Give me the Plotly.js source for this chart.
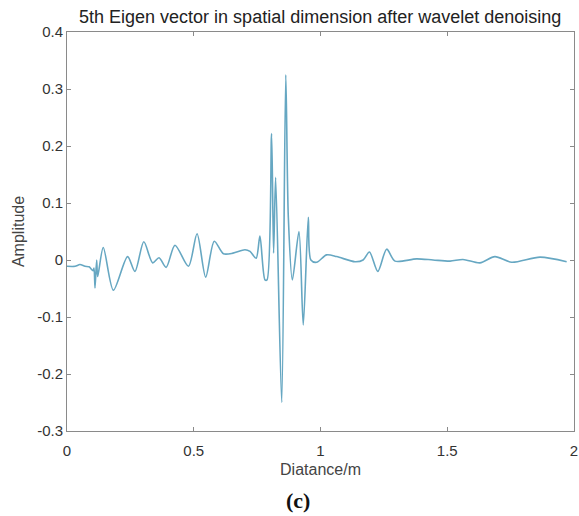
<!DOCTYPE html>
<html>
<head>
<meta charset="utf-8">
<script src="https://cdn.plot.ly/plotly-3.0.1.min.js"></script>
<style>html,body{margin:0;padding:0;background:#fff;}#chart{width:579px;height:516px;}</style>
</head>
<body>
<div id="chart"></div>
<script>
const distance = [0, 0.032, 0.051, 0.071, 0.087, 0.1026, 0.1065, 0.1105, 0.117, 0.121,
  0.143, 0.183, 0.239, 0.268, 0.303, 0.338, 0.363, 0.391, 0.426, 0.479,
  0.513, 0.547, 0.581, 0.617, 0.655, 0.702, 0.722, 0.746, 0.761, 0.781,
  0.789, 0.807, 0.815, 0.823, 0.847, 0.863, 0.873, 0.889, 0.915, 0.932,
  0.952, 0.962, 0.985, 1.024, 1.064, 1.136, 1.168, 1.193, 1.226, 1.261,
  1.294, 1.379, 1.444, 1.511, 1.562, 1.629, 1.688, 1.754, 1.866, 1.971];
const amplitude = [-0.011, -0.011, -0.008, -0.011, -0.012, -0.019, -0.014, -0.049, 0.0, -0.029,
  0.022, -0.053, 0.006, -0.02, 0.032, -0.005, 0.004, -0.013, 0.026, -0.011,
  0.046, -0.03, 0.033, 0.011, 0.012, 0.018, 0.015, 0.003, 0.042, -0.035,
  -0.035, 0.222, 0.012, 0.145, -0.25, 0.325, 0.076, -0.035, 0.05, -0.114,
  0.075, 0.0, -0.004, 0.009, 0.006, -0.003, 0.0, 0.014, -0.02, 0.019,
  -0.002, 0.002, 0.0, -0.002, 0.001, -0.005, 0.006, -0.004, 0.005, -0.003];
const xTicks = [0, 0.5, 1, 1.5, 2];
const xTickText = ['0', '0.5', '1', '1.5', '2'];
const yTicks = [-0.3, -0.2, -0.1, 0, 0.1, 0.2, 0.3, 0.4];
const yTickText = ['-0.3', '-0.2', '-0.1', '0', '0.1', '0.2', '0.3', '0.4'];

const FONT = 'Liberation Sans, Arial, sans-serif';
const trace = {
  x: distance, y: amplitude, type: 'scatter', mode: 'lines',
  line: {color: '#66a7c2', width: 1.6, shape: 'spline', smoothing: 0.8},
  hoverinfo: 'skip'
};
const axisCommon = {
  showgrid: false, zeroline: false, showline: true, linecolor: '#8a8a8a', linewidth: 1,
  mirror: 'allticks', ticks: 'inside', ticklen: 4, tickcolor: '#8a8a8a',
  tickfont: {family: FONT, size: 15, color: '#333'}
};
const layout = {
  width: 579, height: 516,
  margin: {l: 67, r: 5, t: 32, b: 85},
  paper_bgcolor: '#fff', plot_bgcolor: '#fff',
  showlegend: false,
  title: {text: '5th Eigen vector in spatial dimension after wavelet denoising',
    font: {family: FONT, size: 18, color: '#222'},
    x: 0.553, xanchor: 'center', y: 0.967, yanchor: 'middle'},
  xaxis: Object.assign({}, axisCommon, {range: [0, 2], tickvals: xTicks, ticktext: xTickText,
    ticklabelstandoff: 6,
    title: {text: 'Diatance/m', standoff: 5, font: {family: FONT, size: 16, color: '#444'}}}),
  yaxis: Object.assign({}, axisCommon, {range: [-0.3, 0.4], tickvals: yTicks, ticktext: yTickText,
    title: {text: 'Amplitude', standoff: 8, font: {family: FONT, size: 16, color: '#444'}}}),
  annotations: [{text: '<b>(c)</b>', xref: 'paper', yref: 'paper', x: 0.456, y: -0.173, xanchor: 'center', yanchor: 'middle',
    showarrow: false, font: {family: 'Liberation Serif, Times New Roman, serif', size: 22, color: '#111'}}]
};
Plotly.newPlot('chart', [trace], layout, {displayModeBar: false, staticPlot: true});
</script>
</body>
</html>
